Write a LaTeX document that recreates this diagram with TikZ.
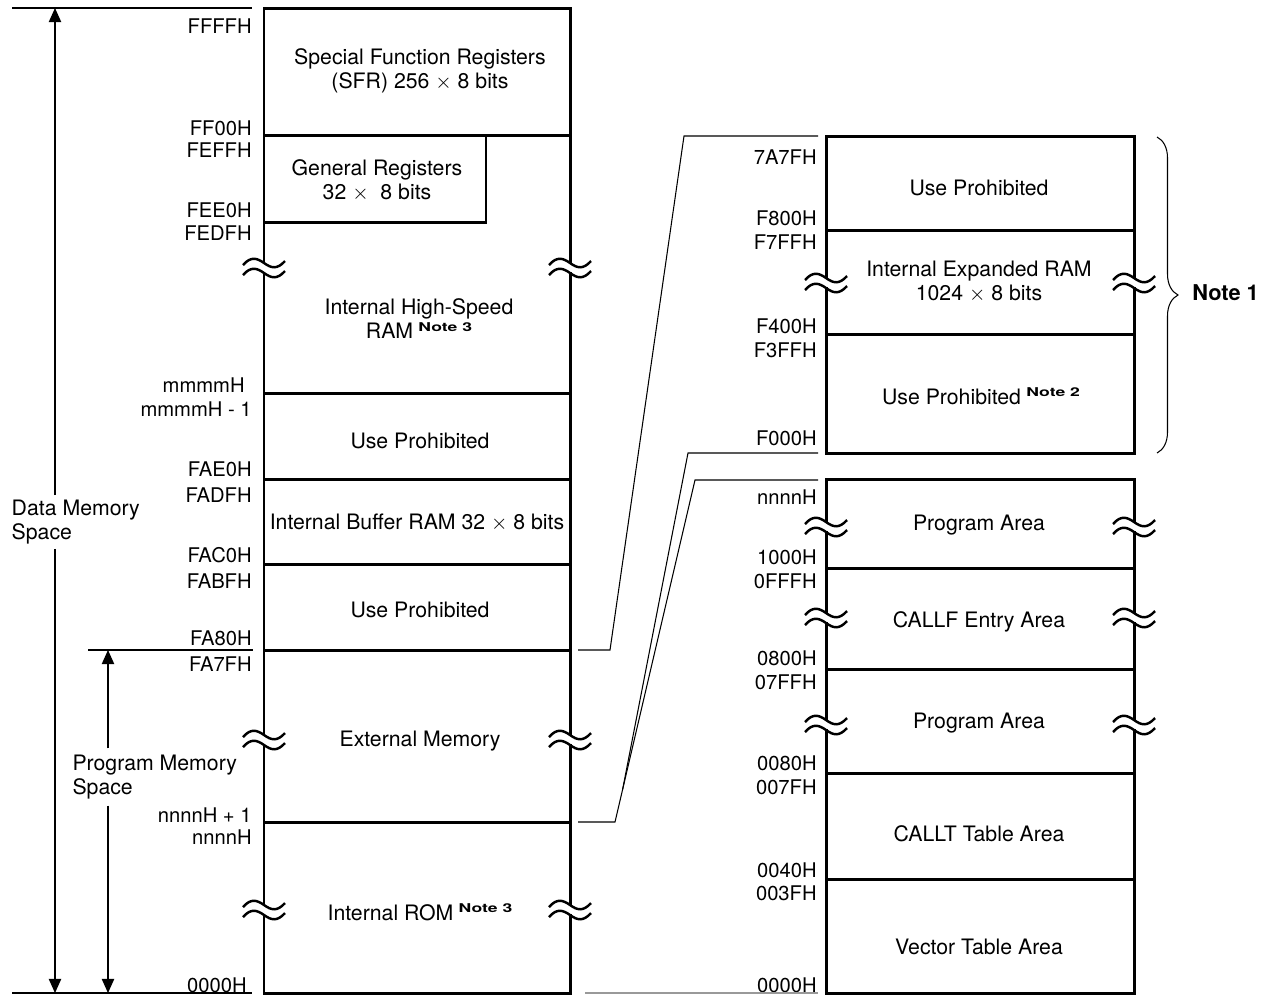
\documentclass[tikz,border=0pt]{standalone}
\usepackage{fontspec}
\setmainfont{TeX Gyre Heros}
\usepackage{graphicx}
\usetikzlibrary{arrows.meta,decorations.pathreplacing,calc}
\newcommand{\supnote}[1]{\hspace{0.25em}\raisebox{4.5pt}{\scalebox{1.45}[1]{\fontsize{6.9}{8}\selectfont\bfseries Note #1}}}

\begin{document}
\begin{tikzpicture}[x=0.02cm, y=-0.02cm, font=\fontsize{12.1}{13.7}\selectfont,
    box/.style={line width=1.7pt},
    rule/.style={line width=0.6pt},
    addr/.style={anchor=east, inner sep=0pt, font=\fontsize{11.5}{13.7}\selectfont},
    area/.style={align=center, inner sep=0pt},
    span/.style={line width=0.7pt, -{Triangle[length=8pt,width=7pt]}},
    brk/.pic={
        \fill[white] (-3,-4) rectangle (3,4);
        \draw[line width=1.4pt] (-21,-3) .. controls (-13,-12) and (-7,-10) .. (0,-5) .. controls (7,0) and (13,2) .. (21,-7);
        \draw[line width=1.4pt] (-21,7) .. controls (-13,-2) and (-7,0) .. (0,5) .. controls (7,10) and (13,12) .. (21,3);
    }]
    \useasboundingbox (0,0) rectangle (1261,995);

    % Left map: data memory space
    \draw[box] (264,8) rectangle (570,993);
    \draw[box] (264,135) -- (570,135);
    \draw[box] (486,135) -- (486,222) -- (264,222);
    \draw[box] (264,393) -- (570,393);
    \draw[box] (264,479) -- (570,479);
    \draw[box] (264,564) -- (570,564);
    \draw[box] (264,650) -- (570,650);
    \draw[box] (264,822) -- (570,822);

    \pic at (264,268) {brk};  \pic at (570,268) {brk};
    \pic at (264,740) {brk};  \pic at (570,740) {brk};
    \pic at (264,910) {brk};  \pic at (570,910) {brk};

    \node[area] (sfr) at (420,71) {Special Function Registers\\(SFR) 256 $\times$ 8 bits};
    \node[area] (genreg) at (377,180) {General Registers\\32 $\times$\ \ 8 bits};
    \node[area] (hsram) at (419,319) {Internal High-Speed\\RAM\supnote{3}};
    \node[area] (useA) at (420,441) {Use Prohibited};
    \node[area] (bufram) at (417,523) {Internal Buffer RAM 32 $\times$ 8 bits};
    \node[area] (useB) at (420,610) {Use Prohibited};
    \node[area] (extmem) at (420,741) {External Memory};
    \node[area] (irom) at (420,912) {Internal ROM\supnote{3}};

    \node[addr] (aFFFF) at (252,26) {FFFFH};
    \node[addr] (aFF00) at (252,128) {FF00H};
    \node[addr] (aFEFF) at (252,150) {FEFFH};
    \node[addr] (aFEE0) at (252,210) {FEE0H};
    \node[addr] (aFEDF) at (252,233) {FEDFH};
    \node[addr] (aMmmm) at (245,385) {mmmmH};
    \node[addr] (aMmm1) at (252,409) {mmmmH - 1};
    \node[addr] (aFAE0) at (252,469) {FAE0H};
    \node[addr] (aFADF) at (252,495) {FADFH};
    \node[addr] (aFAC0) at (252,555) {FAC0H};
    \node[addr] (aFABF) at (252,581) {FABFH};
    \node[addr] (aFA80) at (252,638) {FA80H};
    \node[addr] (aFA7F) at (252,664) {FA7FH};
    \node[addr] (aNnn1) at (252,815) {nnnnH + 1};
    \node[addr] (aNnnn) at (252,837) {nnnnH};
    \node[addr] (aZero) at (247,985) {0000H};

    % Space arrows
    \draw[rule] (12,8) -- (252,8);
    \draw[rule] (12,993) -- (252,993);
    \draw[rule] (88,650) -- (253,650);
    \coordinate (datatop) at (55,8);
    \coordinate (databot) at (55,993);
    \coordinate (progtop) at (108,650);
    \coordinate (progbot) at (108,993);
    \node[align=left, anchor=west, inner sep=2.5pt] (dataspace) at (7,522) {Data Memory\\Space};
    \node[align=left, anchor=west, inner sep=3.5pt] (progspace) at (66,777) {Program Memory\\Space};
    \draw[span] (dataspace.north -| datatop) -- (datatop);
    \draw[span] (dataspace.south -| databot) -- (databot);
    \draw[span] (progspace.north -| progtop) -- (progtop);
    \draw[span] (progspace.south -| progbot) -- (progbot);

    % Right top map: expanded RAM
    \draw[box] (826,136) rectangle (1134,453);
    \draw[box] (826,230) -- (1134,230);
    \draw[box] (826,334) -- (1134,334);
    \pic at (826,283) {brk};  \pic at (1134,283) {brk};

    \node[area] (useC) at (979,188) {Use Prohibited};
    \node[area] (exram) at (979,282) {Internal Expanded RAM\\1024 $\times$ 8 bits};
    \node[area] (useD) at (981,396) {Use Prohibited\supnote{2}};

    \node[addr] (a7A7F) at (817,157) {7A7FH};
    \node[addr] (aF800) at (817,218) {F800H};
    \node[addr] (aF7FF) at (817,242) {F7FFH};
    \node[addr] (aF400) at (817,326) {F400H};
    \node[addr] (aF3FF) at (817,350) {F3FFH};
    \node[addr] (aF000) at (817,438) {F000H};

    \draw[rule, decorate, decoration={brace, amplitude=0.42cm, aspect=0.5}] (1157,137) -- (1157,453);
    \node[anchor=west, inner sep=0pt, font=\fontsize{12.4}{13.7}\selectfont\bfseries] (note1) at (1192,293) {Note 1};

    % Right bottom map: program area
    \draw[box] (826,479) rectangle (1134,993);
    \draw[box] (826,568) -- (1134,568);
    \draw[box] (826,669) -- (1134,669);
    \draw[box] (826,773) -- (1134,773);
    \draw[box] (826,879) -- (1134,879);
    \pic at (826,527) {brk};  \pic at (1134,527) {brk};
    \pic at (826,618) {brk};  \pic at (1134,618) {brk};
    \pic at (826,725) {brk};  \pic at (1134,725) {brk};

    \node[area] (progA) at (979,525) {Program Area};
    \node[area] (callf) at (979,622) {CALLF Entry Area};
    \node[area] (progB) at (979,723) {Program Area};
    \node[area] (callt) at (979,834) {CALLT Table Area};
    \node[area] (vect) at (979,947) {Vector Table Area};

    \node[addr] (bNnnn) at (817,497) {nnnnH};
    \node[addr] (b1000) at (817,557) {1000H};
    \node[addr] (b0FFF) at (817,581) {0FFFH};
    \node[addr] (b0800) at (817,658) {0800H};
    \node[addr] (b07FF) at (817,682) {07FFH};
    \node[addr] (b0080) at (817,763) {0080H};
    \node[addr] (b007F) at (817,787) {007FH};
    \node[addr] (b0040) at (817,870) {0040H};
    \node[addr] (b003F) at (817,893) {003FH};
    \node[addr] (bZero) at (817,985) {0000H};
    \draw[rule, black!40] (585,993) -- (818,993);

    % Connectors between maps
    \coordinate (ramL) at (578,650);
    \coordinate (ramK) at (610,650);
    \coordinate (ramT) at (684,136);
    \coordinate (ramR) at (818,136);
    \coordinate (romL) at (578,822);
    \coordinate (romK) at (615,822);
    \coordinate (romT) at (695,480);
    \coordinate (romR) at (818,480);
    \coordinate (ramB) at (688,453);
    \coordinate (ramE) at (818,453);
    \draw[rule] (ramL) -- (ramK) -- (ramT) -- (ramR);
    \draw[rule] (romL) -- (romK) -- (romT) -- (romR);
    \draw[rule] (ramE) -- (ramB) -- ($(romK)!0.095!(romT)$);
\end{tikzpicture}
\end{document}
